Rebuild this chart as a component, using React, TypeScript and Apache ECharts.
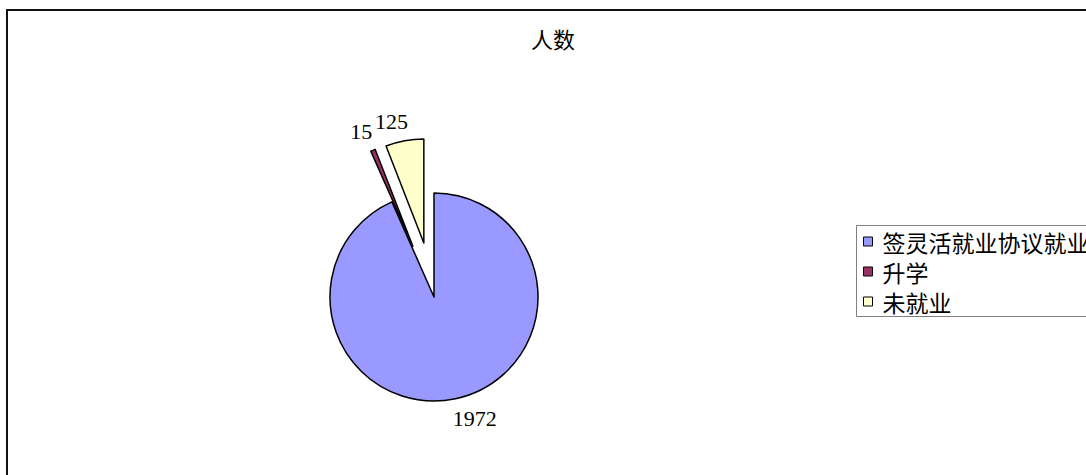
import React, { useEffect, useRef } from "react";
import * as echarts from "echarts";

const titleText = "人数";
const categories = ["签灵活就业协议就业", "升学", "未就业"];
const values = [1972, 15, 125];
const exploded = [false, true, true];
const colors = ["#9999FF", "#993366", "#FFFFCC"];

export default function App() {
  const ref = useRef<HTMLDivElement>(null);
  useEffect(() => {
    if (!ref.current) return;
    const chart = echarts.init(ref.current, undefined, { renderer: "svg" });
    const data = categories.map((name, i) => ({
      name,
      value: values[i],
      selected: exploded[i],
      itemStyle: { color: colors[i] },
      select: { itemStyle: { color: colors[i], borderColor: "#000", borderWidth: 1.5 } },
    }));
    chart.setOption({
      animation: false,
      backgroundColor: "#fff",
      graphic: [
        {
          type: "rect",
          shape: { x: 7, y: 10, width: 1300, height: 700 },
          style: { fill: "none", stroke: "#111", lineWidth: 2 },
          silent: true,
          z: 0,
        },
        {
          type: "rect",
          shape: { x: 856.5, y: 225.5, width: 400, height: 91 },
          style: { fill: "none", stroke: "#808080", lineWidth: 1 },
          silent: true,
          z: 0,
        },
      ],
      title: {
        text: titleText,
        left: 531,
        top: 27,
        padding: 0,
        textStyle: {
          fontFamily: "Noto Sans CJK SC",
          fontSize: 22,
          fontWeight: "normal",
          color: "#000",
        },
      },
      legend: {
        orient: "vertical",
        left: 856,
        top: 225,
        padding: [5, 0, 5, 7],
        itemGap: 7,
        itemWidth: 9,
        itemHeight: 9,
        icon: "rect",
        borderWidth: 0,
        selectedMode: false,
        data: categories,
        itemStyle: { borderColor: "#000", borderWidth: 1 },
        textStyle: {
          fontFamily: "Noto Sans CJK SC",
          fontSize: 23,
          lineHeight: 23,
          color: "#000",
          padding: [0, 0, 0, 5],
        },
      },
      series: [
        {
          type: "pie",
          center: [434, 297],
          radius: 104,
          startAngle: 90,
          clockwise: true,
          selectedMode: "multiple",
          selectedOffset: 55,
          avoidLabelOverlap: false,
          labelLayout: { hideOverlap: false },
          itemStyle: { borderColor: "#000", borderWidth: 1.5 },
          label: {
            show: true,
            position: "outside",
            formatter: "{c}",
            fontFamily: "Liberation Serif",
            fontSize: 22,
            color: "#000",
          },
          labelLine: { show: false, length: 20, length2: -12 },
          emphasis: { disabled: true },
          data,
        },
      ],
    });
    return () => chart.dispose();
  }, []);
  return (
    <div
      ref={ref}
      style={{ position: "absolute", left: 0, top: 0, width: 1086, height: 475 }}
    />
  );
}
